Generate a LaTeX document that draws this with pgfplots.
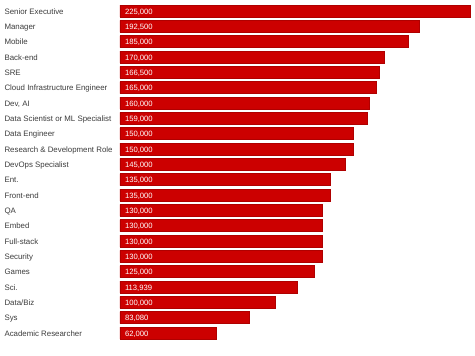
\documentclass[border=0pt]{standalone}
\usepackage{pgfplots}
\pgfplotsset{compat=1.18}
\usepackage{pgfplotstable}
\usepackage{fontspec}
\setmainfont{Liberation Sans}
\definecolor{barred}{RGB}{204,0,0}
\definecolor{barline}{RGB}{175,0,0}
\definecolor{labgray}{RGB}{60,60,60}
\pgfplotstableread[col sep=comma, header=true]{
name,value,lab
Senior Executive,225000,{225,000}
Manager,192500,{192,500}
Mobile,185000,{185,000}
Back-end,170000,{170,000}
SRE,166500,{166,500}
Cloud Infrastructure Engineer,165000,{165,000}
{Dev, AI},160000,{160,000}
Data Scientist or ML Specialist,159000,{159,000}
Data Engineer,150000,{150,000}
Research \& Development Role,150000,{150,000}
DevOps Specialist,145000,{145,000}
Ent.,135000,{135,000}
Front-end,135000,{135,000}
QA,130000,{130,000}
Embed,130000,{130,000}
Full-stack,130000,{130,000}
Security,130000,{130,000}
Games,125000,{125,000}
Sci.,113939,{113,939}
Data/Biz,100000,{100,000}
Sys,83080,{83,080}
Academic Researcher,62000,{62,000}
}\datatable
\begin{document}
\begin{tikzpicture}
\begin{axis}[
  name=ax,
  scale only axis,
  width=355bp, height=356bp,
  xmin=0, xmax=228214,
  ymin=-0.72, ymax=22.5,
  y dir=reverse,
  axis line style={draw=none},
  xtick=\empty,
  ytick={0,...,21},
  yticklabels from table={\datatable}{name},
  major tick length=0pt,
  yticklabel style={anchor=base west, xshift=-119bp, yshift=-3bp, font=\fontsize{7.9}{9}\selectfont, text=labgray},
  clip=false,
]
\addplot[xbar, bar width=12bp, fill=barred, draw=barline, line width=0.5pt]
  table[x=value, y expr=\coordindex] {\datatable};
\addplot[only marks, mark=none, nodes near coords, point meta=explicit symbolic,
  nodes near coords align=horizontal,
  every node near coord/.append style={anchor=base west, xshift=1.5bp, yshift=-3bp, text=white, font=\fontsize{7.7}{9}\selectfont}]
  table[x expr=0, y expr=\coordindex, meta=lab] {\datatable};
\end{axis}
\pgfresetboundingbox
\useasboundingbox ([xshift=-120bp]ax.south west) rectangle (ax.north east);
\end{tikzpicture}
\end{document}
